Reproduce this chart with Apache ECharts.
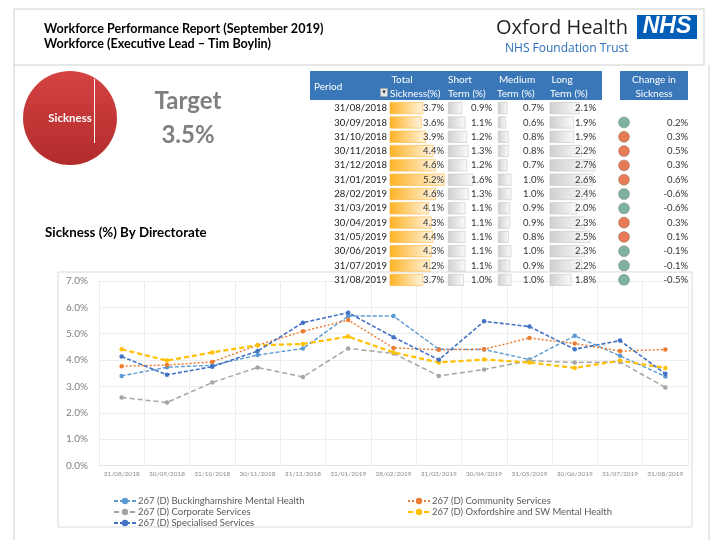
<!DOCTYPE html>
<html><head><meta charset="utf-8">
<script src="https://cdn.jsdelivr.net/npm/echarts@6/dist/echarts.min.js"></script>
<style>html,body{margin:0;padding:0;background:#fff}#c{width:720px;height:540px}</style>
</head><body><div id="c"></div>
<script>
// ---- data ----
const dates = ["31/08/2018","30/09/2018","31/10/2018","30/11/2018","31/12/2018","31/01/2019","28/02/2019","31/03/2019","30/04/2019","31/05/2019","30/06/2019","31/07/2019","31/08/2019"];
const seriesNames = ["267 (D) Buckinghamshire Mental Health","267 (D) Community Services","267 (D) Corporate Services","267 (D) Oxfordshire and SW Mental Health","267 (D) Specialised Services"];
const buckingham = [3.40,3.73,3.80,4.19,4.44,5.67,5.67,4.41,4.40,4.02,4.92,4.16,3.38];
const community = [3.77,3.81,3.93,4.56,5.09,5.52,4.46,4.39,4.41,4.84,4.63,4.34,4.40];
const corporate = [2.58,2.39,3.15,3.72,3.36,4.44,4.25,3.40,3.64,3.98,3.91,3.93,2.96];
const oxfordshire = [4.41,3.98,4.29,4.56,4.61,4.89,4.29,3.91,4.02,3.91,3.70,3.98,3.70];
const specialised = [4.14,3.44,3.75,4.34,5.42,5.80,4.87,4.01,5.47,5.27,4.41,4.74,3.48];
const yTicks = [0,1,2,3,4,5,6,7];
const totalSickness = [3.7,3.6,3.9,4.4,4.6,5.2,4.6,4.1,4.3,4.4,4.3,4.2,3.7];
const shortTerm = [0.9,1.1,1.2,1.3,1.2,1.6,1.3,1.1,1.1,1.1,1.1,1.1,1.0];
const mediumTerm = [0.7,0.6,0.8,0.8,0.7,1.0,1.0,0.9,0.9,0.8,1.0,0.9,1.0];
const longTerm = [2.1,1.9,1.9,2.2,2.7,2.6,2.4,2.0,2.3,2.5,2.3,2.2,1.8];
const changeVals = [null,0.2,0.3,0.5,0.3,0.6,-0.6,-0.6,0.3,0.1,-0.1,-0.1,-0.5];
const changeStatus = ["","g","r","r","r","r","g","g","r","r","g","g","g"];
const pieData = [{name:"Sickness", value:3.7}];
const target = "3.5%";

// ---- chart ----
const chart = echarts.init(document.getElementById('c'), null, {renderer:'canvas'});
const FONT = 'Lato';
const colors = ['#5B9BD5','#ED7D31','#A5A5A5','#FFC000','#4472C4'];
const dashes = [[4,2],[2,2],[5,3],[5,3],[4,2]];
const widths = [1.4,1.5,1.5,2.2,1.6];
const lineData = [buckingham, community, corporate, oxfordshire, specialised];

const T = {top:101, height:186};
function rowAxis(gridIndex, opts){
  return Object.assign({type:'category', gridIndex, data:dates, inverse:true, z:10,
    axisLine:{show:false}, axisTick:{show:false}, splitLine:{show:false},
    axisLabel:{show:false}}, opts||{});
}
function valueLabelAxis(gridIndex, arr){
  return rowAxis(gridIndex, {position:'right', axisLabel:{show:true, inside:true, margin:2,
    fontFamily:FONT, fontSize:9.5, color:'#333',
    formatter:(v,i)=> arr[i]==null ? '' : arr[i].toFixed(1)+'%'}});
}
function hiddenX(gridIndex, min, max){
  return {type:'value', gridIndex, min, max, show:false, splitLine:{show:false}};
}
function grad(c1,c2){
  return new echarts.graphic.LinearGradient(0,0,1,0,[{offset:0,color:c1},{offset:1,color:c2}]);
}

const g = [];
// frame
g.push({type:'line', shape:{x1:14,y1:9,x2:704,y2:9}, style:{stroke:'#CFCFCF',lineWidth:1}});
g.push({type:'line', shape:{x1:14,y1:9,x2:14,y2:540}, style:{stroke:'#CFCFCF',lineWidth:1}});
g.push({type:'line', shape:{x1:704,y1:9,x2:704,y2:65}, style:{stroke:'#CFCFCF',lineWidth:1}});
g.push({type:'line', shape:{x1:14,y1:65,x2:704,y2:65}, style:{stroke:'#CFCFCF',lineWidth:1}});
g.push({type:'line', shape:{x1:709,y1:65,x2:709,y2:540}, style:{stroke:'#CFCFCF',lineWidth:1}});
// chart border
g.push({type:'rect', shape:{x:58,y:272,width:634,height:255}, style:{fill:'none',stroke:'#D9D9D9',lineWidth:1}, z:-1});
// titles
g.push({type:'text', x:44, y:22, style:{text:'Workforce Performance Report (September 2019)', font:'bold 12.6px '+FONT, fill:'#000'}});
g.push({type:'text', x:44, y:37, style:{text:'Workforce (Executive Lead \u2013 Tim Boylin)', font:'bold 12.6px '+FONT, fill:'#000'}});
// logo
g.push({type:'text', x:496, y:18, style:{text:'Oxford Health', font:'20px "Open Sans"', fill:'#231F20'}});
g.push({type:'text', x:505, y:43, style:{text:'NHS Foundation Trust', font:'12px "Open Sans"', fill:'#2A6EBB'}});
g.push({type:'rect', shape:{x:637,y:15,width:60,height:24}, style:{fill:'#005EB8'}});
g.push({type:'text', x:667, y:27, style:{text:'NHS', font:'italic bold 23px "Liberation Sans"', fill:'#fff', align:'center', verticalAlign:'middle'}});
// target
g.push({type:'text', x:188, y:101, style:{text:'Target', font:'bold 24px '+FONT, fill:'#7F7F7F', align:'center', verticalAlign:'middle'}});
g.push({type:'text', x:188, y:135, style:{text:target, font:'bold 24px '+FONT, fill:'#7F7F7F', align:'center', verticalAlign:'middle'}});
g.push({type:'text', x:45, y:226, style:{text:'Sickness (%) By Directorate', font:'bold 13.3px '+FONT, fill:'#000'}});
// pie decoration line
g.push({type:'line', shape:{x1:94.5,y1:79,x2:94.5,y2:143}, style:{stroke:'#fff',lineWidth:1}, z:10});
// table headers
g.push({type:'rect', shape:{x:310,y:71,width:292,height:29}, style:{fill:'#3A77B8'}});
g.push({type:'rect', shape:{x:620,y:71,width:68,height:29}, style:{fill:'#3A77B8'}});
const hdr = (x,y,t,align)=>g.push({type:'text', x, y, style:{text:t, font:'10px '+FONT, fill:'#fff', align:align||'left', verticalAlign:'middle'}});
hdr(314,87,'Period');
hdr(402,80,'Total','center'); hdr(390,94,'Sickness(%)');
hdr(460,80,'Short','center'); hdr(448,94,'Term (%)');
hdr(517,80,'Medium','center'); hdr(497,94,'Term (%)');
hdr(562,80,'Long','center'); hdr(550,94,'Term (%)');
hdr(654,80,'Change in','center'); hdr(654,94,'Sickness','center');
g.push({type:'rect', shape:{x:380.5,y:88.5,width:7,height:8}, style:{fill:'#E8E8E8',stroke:'#9A9A9A',lineWidth:0.5}});
g.push({type:'text', x:384, y:92.5, style:{text:'\u25be', font:'7px "DejaVu Sans"', fill:'#333', align:'center', verticalAlign:'middle'}});

const option = {
  animation:false,
  textStyle:{fontFamily:FONT},
  graphic:g,
  color:colors,
  grid:[
    {left:99, right:32, top:281, bottom:74.5},
    {left:390, width:56, top:T.top, height:T.height},
    {left:448, width:46, top:T.top, height:T.height},
    {left:498, width:48, top:T.top, height:T.height},
    {left:550, width:48, top:T.top, height:T.height},
    {left:618, width:12, top:T.top, height:T.height},
    {left:632, width:58, top:T.top, height:T.height}
  ],
  xAxis:[
    {type:'category', gridIndex:0, data:dates, boundaryGap:true,
     axisLine:{show:true, lineStyle:{color:'#E3E3E3'}}, axisTick:{show:false},
     splitLine:{show:true, lineStyle:{color:'#EDEDED'}},
     axisLabel:{fontSize:6.5, color:'#8C8C8C', margin:5, interval:0, fontFamily:FONT}},
    hiddenX(1,1.4,5.3),
    hiddenX(2,0,2.9),
    hiddenX(3,0,3.6),
    hiddenX(4,1.0,2.8),
    {type:'category', gridIndex:5, data:['c'], show:false},
    hiddenX(6,0,1)
  ],
  yAxis:[
    {type:'value', gridIndex:0, min:yTicks[0], max:yTicks[yTicks.length-1], interval:1,
     axisLine:{show:false}, axisTick:{show:false},
     splitLine:{lineStyle:{color:'#EDEDED'}},
     axisLabel:{formatter:v=>v.toFixed(1)+'%', color:'#7F7F7F', fontSize:10, margin:11, fontFamily:FONT}},
    rowAxis(1, {axisLabel:{show:true, margin:3, fontFamily:FONT, fontSize:9.5, color:'#222'}}),
    valueLabelAxis(1,totalSickness),
    valueLabelAxis(2,shortTerm),
    valueLabelAxis(3,mediumTerm),
    valueLabelAxis(4,longTerm),
    rowAxis(5),
    valueLabelAxis(6,changeVals)
  ],
  legend:[
    {orient:'vertical', left:108, top:491, itemGap:1, itemWidth:22, itemHeight:8,
     data:[seriesNames[0],seriesNames[2],seriesNames[4]],
     textStyle:{fontSize:9.5, color:'#595959', fontFamily:FONT, padding:[0,0,0,-3]}},
    {orient:'vertical', left:402, top:491, itemGap:1, itemWidth:22, itemHeight:8,
     data:[seriesNames[1],seriesNames[3]],
     textStyle:{fontSize:9.5, color:'#595959', fontFamily:FONT, padding:[0,0,0,-3]}}
  ],
  series:[
    {type:'pie', center:[70,118], radius:47, silent:true, startAngle:90,
     data:pieData, label:{show:true, position:'center', formatter:'{b}', color:'#fff', fontWeight:'bold', fontSize:11.5, fontFamily:FONT},
     labelLine:{show:false},
     itemStyle:{color:new echarts.graphic.LinearGradient(0,0,0,1,[{offset:0,color:'#D54242'},{offset:1,color:'#B22B2B'}])}},
    ...lineData.map((d,i)=>({
      type:'line', name:seriesNames[i], xAxisIndex:0, yAxisIndex:0, data:d,
      symbol:'circle', symbolSize:4.5, z:i===4?6:3,
      lineStyle:{color:colors[i], width:widths[i], type:dashes[i]},
      itemStyle:{color:colors[i]}
    })),
    {type:'bar', xAxisIndex:1, yAxisIndex:1, data:totalSickness, barWidth:12, z:1,
     itemStyle:{color:grad('#FFB224','#FFF4E0'), borderColor:'#FFB53A', borderWidth:0.6}},
    {type:'bar', xAxisIndex:2, yAxisIndex:3, data:shortTerm, barWidth:12, z:1,
     itemStyle:{color:grad('#CFCFCF','#FBFBFB'), borderColor:'#C4C4C4', borderWidth:0.6}},
    {type:'bar', xAxisIndex:3, yAxisIndex:4, data:mediumTerm, barWidth:12, z:1,
     itemStyle:{color:grad('#CFCFCF','#FBFBFB'), borderColor:'#C4C4C4', borderWidth:0.6}},
    {type:'bar', xAxisIndex:4, yAxisIndex:5, data:longTerm, barWidth:12, z:1,
     itemStyle:{color:grad('#CFCFCF','#FBFBFB'), borderColor:'#C4C4C4', borderWidth:0.6}},
    {type:'scatter', xAxisIndex:5, yAxisIndex:6, symbolSize:11,
     data:dates.map((d,i)=> changeStatus[i] ? {value:['c', d], itemStyle:{color: changeStatus[i]==='g' ? '#5E9E88' : '#E05A2B', borderColor:'#5a5a5a', borderWidth:0.4}} : null).filter(Boolean)}
  ]
};
chart.setOption(option);
</script>
</body></html>
